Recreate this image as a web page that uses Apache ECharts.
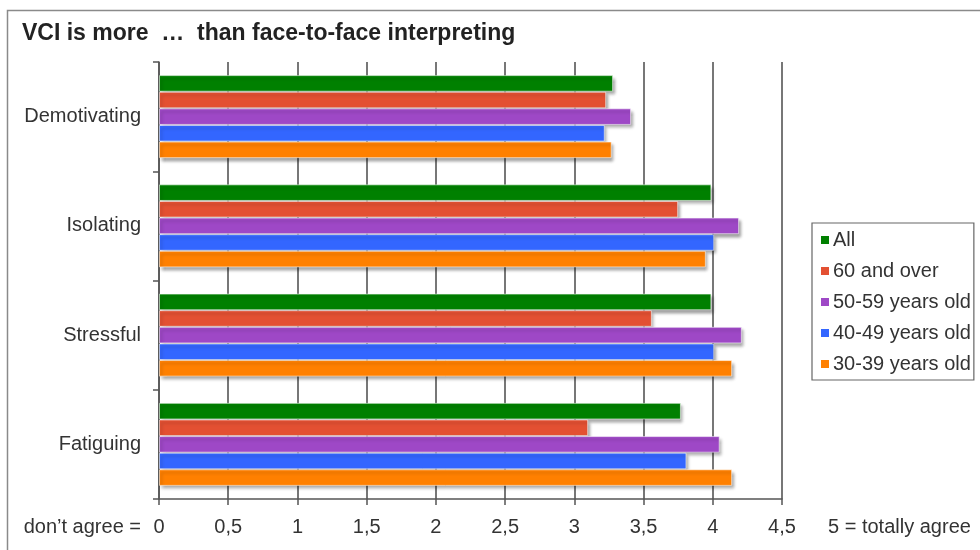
<!DOCTYPE html>
<html>
<head>
<meta charset="utf-8">
<script src="https://cdn.jsdelivr.net/npm/echarts@6/dist/echarts.min.js"></script>
<style>
  html, body { margin: 0; padding: 0; background: #fff; }
  #chart { width: 980px; height: 550px; }
</style>
</head>
<body>
<div id="chart"></div>
<script>
// Survey answers: mean agreement per statement, by age group
const categories = ['Demotivating', 'Isolating', 'Stressful', 'Fatiguing'];
const seriesNames = ['All', '60 and over', '50-59 years old', '40-49 years old', '30-39 years old'];
const valuesAll    = [3.28, 3.99, 3.99, 3.77];
const values60plus = [3.23, 3.75, 3.56, 3.10];
const values50_59  = [3.41, 4.19, 4.21, 4.05];
const values40_49  = [3.22, 4.01, 4.01, 3.81];
const values30_39  = [3.27, 3.95, 4.14, 4.14];
const xTicks = [0, 0.5, 1, 1.5, 2, 2.5, 3, 3.5, 4, 4.5];

const seriesValues = [valuesAll, values60plus, values50_59, values40_49, values30_39];
const colors = ['#008000', '#e35032', '#9e48c6', '#3366ff', '#ff8000'];

const FONT = 'Liberation Sans, Arial, sans-serif';
const chart = echarts.init(document.getElementById('chart'), null, { renderer: 'canvas' });

chart.setOption({
  animation: false,
  backgroundColor: '#ffffff',
  textStyle: { fontFamily: FONT },
  graphic: [
    {
      type: 'rect', left: 5, top: 8, silent: true,
      shape: { width: 1000, height: 600 },
      style: { fill: 'none', stroke: '#8a8a8a', lineWidth: 1.5 }
    },
    {
      type: 'text', left: 22, top: 22,
      style: { text: 'VCI is more  \u2026  than face-to-face interpreting', font: 'bold 23px ' + FONT, fill: '#222' }
    },
    {
      type: 'text', right: 980 - 141, top: 517,
      style: { text: 'don\u2019t agree =', font: '20px ' + FONT, fill: '#333', align: 'right' }
    },
    {
      type: 'text', left: 828, top: 517,
      style: { text: '5 = totally agree', font: '20px ' + FONT, fill: '#333' }
    }
  ],
  legend: {
    orient: 'vertical',
    left: 812, top: 223,
    data: seriesNames,
    icon: 'rect',
    itemWidth: 8, itemHeight: 8, itemGap: 11,
    padding: [7, 3, 6, 9],
    borderColor: '#666', borderWidth: 1.2,
    itemStyle: { borderWidth: 0, shadowBlur: 0, shadowOffsetX: 0, shadowOffsetY: 0 },
    textStyle: { fontSize: 20, color: '#333', fontFamily: FONT, padding: [0, 0, 0, -1] }
  },
  grid: { left: 159, right: 198, top: 62, bottom: 51, containLabel: false },
  xAxis: {
    type: 'value', min: xTicks[0], max: xTicks[xTicks.length - 1], interval: xTicks[1] - xTicks[0],
    axisLine: { show: true, lineStyle: { color: '#555', width: 1.5 } },
    axisTick: { show: true, length: 6, lineStyle: { color: '#555', width: 1.5 } },
    splitLine: { show: true, lineStyle: { color: '#4a4a4a', width: 1.5 } },
    axisLabel: {
      margin: 18, fontSize: 20, color: '#333', fontFamily: FONT,
      formatter: v => String(v).replace('.', ',')
    }
  },
  yAxis: {
    type: 'category', data: categories, inverse: true,
    axisLine: { show: true, lineStyle: { color: '#555', width: 1.5 } },
    axisTick: { show: true, length: 6, lineStyle: { color: '#555', width: 1.5 } },
    axisLabel: { margin: 18, fontSize: 20, color: '#333', fontFamily: FONT },
    splitLine: { show: false }
  },
  series: seriesNames.map((name, i) => ({
    name,
    type: 'bar',
    data: seriesValues[i],
    barGap: '0%',
    barCategoryGap: '24%',
    itemStyle: {
      color: colors[i],
      borderColor: 'rgba(255,255,255,0.55)',
      borderWidth: 1,
      shadowColor: 'rgba(0,0,0,0.38)',
      shadowBlur: 3,
      shadowOffsetX: 2,
      shadowOffsetY: 3
    }
  }))
});
</script>
</body>
</html>
